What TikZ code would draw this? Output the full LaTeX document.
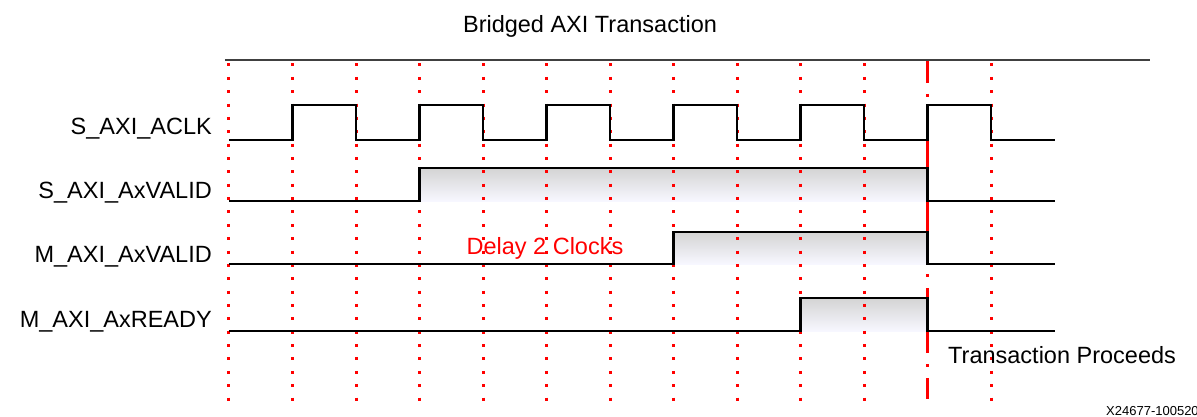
\documentclass[tikz,border=0pt]{standalone}
\usepackage{fontspec}
\setmainfont{Liberation Sans}

\tikzset{
    sig/.style={line width=2.6pt, line join=miter},
    tick/.style={red, line width=3pt, dash pattern=on 3pt off 10.36pt},
    cut/.style={red, line width=2.6pt, dash pattern=on 65pt off 11pt on 3pt off 11pt, dash phase=43pt},
    hi/.style={top color=black!17, bottom color=blue!3!white, draw=none},
    lbl/.style={inner sep=0pt, font=\fontsize{23.5}{28}\selectfont},
}

\begin{document}
\begin{tikzpicture}[x=63.5pt, y=-1pt]
    \useasboundingbox (-3.6063,0) rectangle (15.2441,417);

    % Title and top rule
    \node[lbl, anchor=base] (title) at (5.685,32.7) {Bridged AXI Transaction};
    \draw[black!75, line width=1.5pt] (-0.063,60) -- (14.504,60);

    % Shade the high phases
    \shade[hi] (3,168) rectangle (11,201);
    \shade[hi] (7,232) rectangle (11,264);
    \shade[hi] (9,298) rectangle (11,331);

    % Clock edge markers
    \foreach \k in {0,...,10,12} {
            \draw[tick] (\k,63.5) -- (\k,400.5);
        }
    \draw[cut] (11,61) -- (11,399);

    % Waveforms
    \draw[sig] (0,140) foreach \k in {1,3,...,11} {
            -- (\k,140) -- (\k,105) -- (\k+1,105) -- (\k+1,140)
        } -- (13,140);
    \draw[sig] (0,201) -- (3,201) -- (3,168) -- (11,168) -- (11,201) -- (13,201);
    \draw[sig] (0,264) -- (7,264) -- (7,232) -- (11,232) -- (11,264) -- (13,264);
    \draw[sig] (0,331) -- (9,331) -- (9,298) -- (11,298) -- (11,331) -- (13,331);

    % Signal names
    \node[lbl, anchor=base east] (aclk) at (-0.268,134.3) {S\_AXI\_ACLK};
    \node[lbl, anchor=base east] (svalid) at (-0.268,198.3) {S\_AXI\_AxVALID};
    \node[lbl, anchor=base east] (mvalid) at (-0.268,262.7) {M\_AXI\_AxVALID};
    \node[lbl, anchor=base east] (mready) at (-0.268,327.7) {M\_AXI\_AxREADY};

    % Notes
    \node[lbl, red, anchor=base] (delay) at (4.976,254) {Delay 2 Clocks};
    \node[lbl, anchor=base west] (proceeds) at (11.323,363.3) {Transaction Proceeds};
    \node[inner sep=0pt, anchor=base west, font=\fontsize{13}{15}\selectfont] (figid) at (13.811,415.5) {X24677-100520};
\end{tikzpicture}
\end{document}
